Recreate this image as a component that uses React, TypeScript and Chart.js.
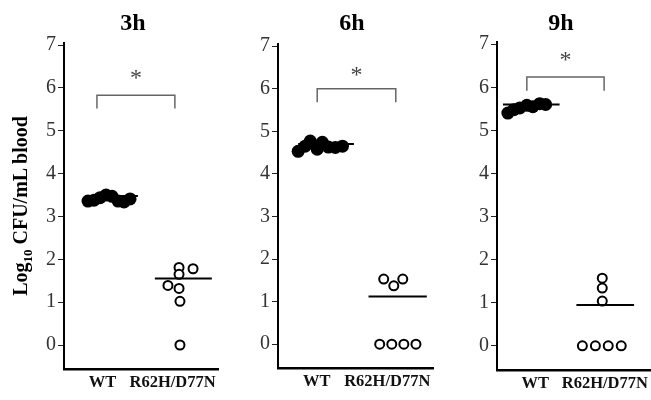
import React, { useEffect, useRef } from "react";
import { Chart, registerables } from "chart.js";
Chart.register(...registerables);

// ---------- data ----------
const panelTitles = ["3h", "6h", "9h"];
const categories = ["WT", "R62H/D77N"];
const categoryTickPos = [2.5, 7.05];
const yTicks = [0, 1, 2, 3, 4, 5, 6, 7];

// 3h
const wt3h = [3.36, 3.38, 3.44, 3.5, 3.47, 3.36, 3.34, 3.41];
const wt3hX = [1.56, 1.95, 2.34, 2.73, 3.12, 3.51, 3.9, 4.29];
const mut3h = [1.81, 1.78, 1.65, 1.39, 1.32, 1.02, 0];
const mut3hX = [7.47, 8.38, 7.47, 6.75, 7.47, 7.53, 7.53];
const mean3h = [3.48, 1.55];

// 6h
const wt6h = [4.53, 4.65, 4.77, 4.58, 4.74, 4.63, 4.62, 4.65];
const wt6hX = [1.3, 1.75, 2.08, 2.53, 2.86, 3.25, 3.7, 4.16];
const mut6h = [1.53, 1.37, 1.53, 0, 0, 0, 0];
const mut6hX = [6.82, 7.47, 8.05, 6.56, 7.34, 8.12, 8.9];
const mean6h = [4.7, 1.12];

// 9h
const wt9h = [5.4, 5.48, 5.52, 5.58, 5.55, 5.62, 5.6];
const wt9hX = [0.71, 1.1, 1.49, 1.95, 2.34, 2.79, 3.18];
const mut9h = [1.57, 1.34, 1.04, 0, 0, 0, 0];
const mut9hX = [6.88, 6.88, 6.88, 5.58, 6.43, 7.27, 8.12];
const mean9h = [5.6, 0.95];

// mean line extents [WT start, WT end, mutant start, mutant end]
const meanSpan3h = [1.36, 4.8, 5.9, 9.6];
const meanSpan6h = [1.3, 4.9, 5.84, 9.6];
const meanSpan9h = [0.39, 4.09, 5.19, 8.96];

// significance brackets [x1, x2, top, legBottom, asteriskY]
const bracket3h = [2.14, 7.2, 5.83, 5.52, 6.3];
const bracket6h = [2.53, 7.6, 6.0, 5.68, 6.4];
const bracket9h = [1.95, 7.0, 6.24, 5.92, 6.72];
const sigLabel = "*";

const SERIF = "'Liberation Serif', 'Times New Roman', serif";

type PanelDef = {
  wt: number[]; wtX: number[]; mut: number[]; mutX: number[];
  mean: number[]; span: number[]; bracket: number[];
  left: number; width: number; pad: { left: number; right: number; top: number; bottom: number };
};

const panels: PanelDef[] = [
  { wt: wt3h, wtX: wt3hX, mut: mut3h, mutX: mut3hX, mean: mean3h, span: meanSpan3h, bracket: bracket3h,
    left: 0, width: 220, pad: { left: 20, right: 2, top: 43, bottom: 0 } },
  { wt: wt6h, wtX: wt6hX, mut: mut6h, mutX: mut6hX, mean: mean6h, span: meanSpan6h, bracket: bracket6h,
    left: 220, width: 215, pad: { left: 14, right: 2, top: 44, bottom: 0 } },
  { wt: wt9h, wtX: wt9hX, mut: mut9h, mutX: mut9hX, mean: mean9h, span: meanSpan9h, bracket: bracket9h,
    left: 437, width: 214, pad: { left: 16, right: 1, top: 42, bottom: 0 } },
];

const titleCenters = [133, 352, 561];

function makeChart(canvas: HTMLCanvasElement, p: PanelDef) {
  const asteriskPlugin = {
    id: "asterisk",
    afterDatasetsDraw(chart: any) {
      const { ctx, scales } = chart;
      const b = p.bracket;
      const x = scales.x.getPixelForValue((b[0] + b[1]) / 2);
      const y = scales.y.getPixelForValue(b[4]);
      ctx.save();
      ctx.fillStyle = "#444";
      ctx.font = `24px ${SERIF}`;
      ctx.textAlign = "center";
      ctx.textBaseline = "middle";
      ctx.fillText(sigLabel, x, y + 4);
      ctx.restore();
    },
  };
  const b = p.bracket;
  return new Chart(canvas, {
    type: "scatter",
    data: {
      datasets: [
        {
          type: "line",
          data: [{ x: p.span[0], y: p.mean[0] }, { x: p.span[1], y: p.mean[0] }],
          borderColor: "#000", borderWidth: 2, pointRadius: 0,
        },
        {
          type: "line",
          data: [{ x: p.span[2], y: p.mean[1] }, { x: p.span[3], y: p.mean[1] }],
          borderColor: "#000", borderWidth: 2, pointRadius: 0,
        },
        {
          type: "line",
          data: [
            { x: b[0], y: b[3] }, { x: b[0], y: b[2] },
            { x: b[1], y: b[2] }, { x: b[1], y: b[3] },
          ],
          borderColor: "#666", borderWidth: 1.5, pointRadius: 0,
        },
        {
          type: "scatter",
          data: p.mutX.map((x, i) => ({ x, y: p.mut[i] })),
          pointRadius: 4.5, pointBorderWidth: 2,
          pointBackgroundColor: "#fff", pointBorderColor: "#000",
        },
        {
          type: "scatter",
          data: p.wtX.map((x, i) => ({ x, y: p.wt[i] })),
          pointRadius: 6.5, pointBorderWidth: 0,
          pointBackgroundColor: "#000", pointBorderColor: "#000",
        },
      ],
    } as any,
    options: {
      animation: false,
      responsive: false,
      maintainAspectRatio: false,
      layout: { padding: p.pad, autoPadding: false },
      plugins: { legend: { display: false }, tooltip: { enabled: false }, title: { display: false } },
      scales: {
        x: {
          type: "linear", min: 0, max: 10,
          afterBuildTicks: (s: any) => { s.ticks = categoryTickPos.map((v) => ({ value: v })); },
          afterFit: (s: any) => {
            s.height = 400 - 369 - p.pad.bottom + (p.pad.top - 43);
            s.paddingLeft = 0; s.paddingRight = 0;
          },
          ticks: {
            callback: (_v: any, i: number) => categories[i],
            font: { family: SERIF, size: 16.5, weight: "bold" },
            color: "#111", padding: 4, maxRotation: 0, autoSkip: false,
          },
          grid: { display: false, drawTicks: false },
          border: { display: true, color: "#000", width: 2.5 },
        },
        y: {
          min: -0.56, max: 7.05,
          afterBuildTicks: (s: any) => { s.ticks = yTicks.map((v) => ({ value: v })); },
          afterFit: (s: any) => { s.width = 44; s.paddingTop = 0; s.paddingBottom = 0; },
          ticks: { font: { family: SERIF, size: 20 }, color: "#333", padding: 2 },
          grid: { display: true, drawOnChartArea: false, drawTicks: true, tickLength: 6, color: "#222", lineWidth: 1 },
          border: { display: true, color: "#000", width: 2 },
        },
      },
    } as any,
    plugins: [asteriskPlugin],
  });
}

export default function App() {
  const refs = [useRef<HTMLCanvasElement>(null), useRef<HTMLCanvasElement>(null), useRef<HTMLCanvasElement>(null)];
  useEffect(() => {
    const charts = panels.map((p, i) => makeChart(refs[i].current!, p));
    return () => charts.forEach((c) => c.destroy());
  }, []);
  return (
    <div style={{ position: "absolute", left: 0, top: 0, width: 651, height: 400, background: "#fff", overflow: "hidden" }}>
      {panels.map((p, i) => (
        <canvas key={i} ref={refs[i]} width={p.width} height={400}
          style={{ position: "absolute", left: p.left, top: 0, width: p.width, height: 400 }} />
      ))}
      {panelTitles.map((t, i) => (
        <div key={t} style={{ position: "absolute", left: titleCenters[i] - 40, top: 9, width: 80, textAlign: "center",
          font: `bold 24px ${SERIF}`, lineHeight: "26px", color: "#000" }}>{t}</div>
      ))}
      <div style={{ position: "absolute", left: 22 - 120, top: 206 - 13, width: 240, height: 26, lineHeight: "26px",
        textAlign: "center", transform: "rotate(-90deg)", font: `bold 20px ${SERIF}`, color: "#000", whiteSpace: "nowrap" }}>
        Log<sub style={{ fontSize: 13 }}>10</sub> CFU/mL blood
      </div>
    </div>
  );
}
